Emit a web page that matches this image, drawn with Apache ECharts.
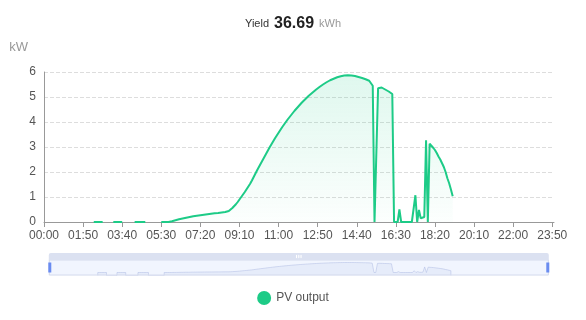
<!DOCTYPE html>
<html>
<head>
<meta charset="utf-8">
<script src="https://cdn.jsdelivr.net/npm/echarts@6/dist/echarts.min.js"></script>
<style>
html, body { margin: 0; padding: 0; background: #fff; }
#main { width: 586px; height: 320px; }
</style>
</head>
<body>
<div id="main"></div>
<script>
// 当日发电量
var yieldTotal = '36.69';
var seriesName = 'PV output';

// 5分钟一个点, 00:00 - 23:55
var times = [];
for (var m = 0; m < 24 * 60; m += 5) {
	var h = Math.floor(m / 60), mm = m % 60;
	times.push((h < 10 ? '0' : '') + h + ':' + (mm < 10 ? '0' : '') + mm);
}

// 功率 kW (null = 无数据)
var pvOutput = [
	// 00:00 - 02:15
	null, null, null, null, null, null, null, null, null, null,
	null, null, null, null, null, null, null, null, null, null,
	null, null, null, null, null, null, null, null,
	// 02:20 - 02:45
	0, 0, 0, 0, 0, 0,
	null, null, null, null, null,
	// 03:15 - 03:40
	0, 0, 0, 0, 0, 0,
	null, null, null, null, null, null,
	// 04:15 - 04:45
	0, 0, 0, 0, 0, 0, 0,
	null, null, null, null, null, null, null, null,
	// 05:30 起
	0, 0, 0, 0, 0, 0.02, 0.03, 0.05, 0.07, 0.09,
	0.11, 0.12, 0.14, 0.15, 0.17, 0.18, 0.2, 0.21, 0.23, 0.24,
	0.25, 0.26, 0.27, 0.28, 0.29, 0.3, 0.31, 0.32, 0.33, 0.34,
	0.35, 0.35, 0.36, 0.37, 0.38, 0.39, 0.4, 0.41, 0.44, 0.5,
	0.56, 0.63, 0.71, 0.8, 0.9, 1.0, 1.1, 1.2, 1.31, 1.42,
	1.53, 1.66, 1.8, 1.94, 2.08, 2.21, 2.34, 2.47, 2.6, 2.73,
	2.86, 2.99, 3.11, 3.23, 3.35, 3.46, 3.57, 3.68, 3.79, 3.89,
	3.99, 4.09, 4.18, 4.27, 4.36, 4.45, 4.53, 4.61, 4.69, 4.77,
	4.84, 4.91, 4.98, 5.05, 5.11, 5.17, 5.23, 5.29, 5.35, 5.4,
	5.45, 5.5, 5.55, 5.59, 5.63, 5.67, 5.7, 5.73, 5.76, 5.79,
	5.81, 5.83, 5.85, 5.86, 5.87, 5.87, 5.87, 5.86, 5.85, 5.84,
	5.82, 5.8, 5.78, 5.76, 5.74, 5.71, 5.68, 5.65, 5.6, 5.45,
	0, 0, 5.35, 5.4, 5.38, 5.34, 5.3, 5.26, 5.22, 5.17,
	5.12, 0, 0, 0, 0.5, 0, 0, 0, 0, 0,
	0, 0, 0, 1.07, 0, 0.48, 0.15, 0.1, 0.2, 3.27,
	0, 3.13, 3.05, 2.97, 2.88, 2.76, 2.62, 2.5, 2.35, 2.2,
	2.0, 1.75, 1.55, 1.3, 1.03,
	// 19:20 以后
	null, null, null, null, null, null, null, null, null, null,
	null, null, null, null, null, null, null, null, null, null,
	null, null, null, null, null, null, null, null, null, null,
	null, null, null, null, null, null, null, null, null, null,
	null, null, null, null, null, null, null, null, null, null,
	null, null, null, null, null, null
];

var lineColor = '#1dcb87';

var myChart = echarts.init(document.getElementById('main'));
var option = {
	title: {
		text: '{a|Yield} {b|' + yieldTotal + '} {c|kWh}',
		left: 'center',
		top: 10,
		textStyle: {
			rich: {
				a: { fontSize: 11, fontWeight: 'normal', color: '#333', fontFamily: 'Liberation Sans' },
				b: { fontSize: 16, fontWeight: 'bold', color: '#222', fontFamily: 'Liberation Sans' },
				c: { fontSize: 11, fontWeight: 'normal', color: '#999', fontFamily: 'Liberation Sans' }
			}
		}
	},
	legend: {
		data: [seriesName],
		bottom: 10,
		left: 'center',
		icon: 'circle',
		itemWidth: 14,
		itemHeight: 14,
		textStyle: { fontSize: 12, color: '#555', fontFamily: 'Liberation Sans' }
	},
	grid: {
		left: 44,
		right: 32,
		top: 72,
		bottom: 98
	},
	dataZoom: [
		{
			type: 'slider',
			start: 0,
			end: 100,
			left: 46,
			right: 40,
			bottom: 51,
			height: 16,
			showDetail: false,
			borderColor: '#d5dbec',
			fillerColor: 'rgba(225,233,252,0.45)',
			moveHandleStyle: { color: '#dbe1f1', opacity: 1 },
			dataBackground: {
				lineStyle: { color: '#d3dcf5', width: 0.6 },
				areaStyle: { color: '#dfe6f8', opacity: 0.6 }
			},
			// 蓝色细条手柄
			handleIcon: 'path://M-8,-8 L-8,-7.9 M-1.5,-5 L1.5,-5 L1.5,5 L-1.5,5 Z M8,8 L8,7.9',
			handleSize: '100%',
			handleStyle: { color: '#6a8cf0', borderColor: '#6a8cf0', borderWidth: 0 }
		}
	],
	xAxis: {
		type: 'category',
		boundaryGap: false,
		data: times,
		axisLine: { lineStyle: { color: '#999' } },
		axisTick: { interval: 21, lineStyle: { color: '#999' } },
		axisLabel: { interval: 21, color: '#555', fontSize: 12, fontFamily: 'Liberation Sans' }
	},
	yAxis: {
		type: 'value',
		name: 'kW',
		min: 0,
		max: 6,
		interval: 1,
		nameGap: 18,
		nameTextStyle: { color: '#999', fontSize: 13, align: 'right', padding: [0, 16, 0, 0], fontFamily: 'Liberation Sans' },
		axisLine: { show: true, lineStyle: { color: '#999' } },
		axisLabel: { color: '#555', fontSize: 12, fontFamily: 'Liberation Sans' },
		splitLine: { lineStyle: { type: 'dashed', color: '#ddd' } }
	},
	series: [
		{
			name: seriesName,
			type: 'line',
			data: pvOutput,
			showSymbol: false,
			itemStyle: { color: lineColor },
			lineStyle: { width: 2, color: lineColor },
			areaStyle: {
				color: new echarts.graphic.LinearGradient(0, 0, 0, 1, [
					{ offset: 0, color: 'rgba(29,203,135,0.2)' },
					{ offset: 1, color: 'rgba(29,203,135,0.02)' }
				])
			}
		}
	]
};
myChart.setOption(option);
</script>
</body>
</html>
